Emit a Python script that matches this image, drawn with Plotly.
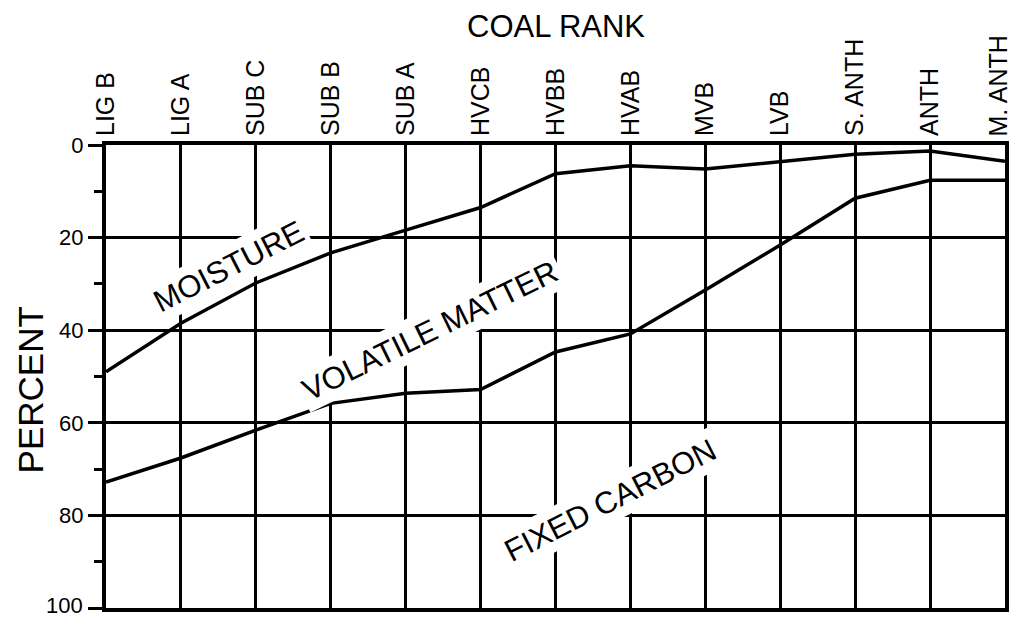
import plotly.graph_objects as go

ranks = ["LIG B", "LIG A", "SUB C", "SUB B", "SUB A", "HVCB", "HVBB",
         "HVAB", "MVB", "LVB", "S. ANTH", "ANTH", "M. ANTH"]
moisture_line = [49.0, 38.5, 29.8, 23.3, 18.4, 13.5, 6.2, 4.5, 5.2, 3.6, 2.0, 1.3, 3.5]
volatile_line = [72.8, 67.6, 61.6, 55.8, 53.6, 52.8, 44.7, 40.8, 31.3, 21.6, 11.5, 7.6, 7.6]
y_ticks = [0, 20, 40, 60, 80, 100]

xpos = list(range(len(ranks)))
FONT = "Liberation Sans, Arial, Helvetica, sans-serif"

fig = go.Figure()
fig.add_trace(go.Scatter(x=xpos, y=moisture_line, mode="lines",
                         line=dict(color="black", width=3.5), showlegend=False))
fig.add_trace(go.Scatter(x=xpos, y=volatile_line, mode="lines",
                         line=dict(color="black", width=3.5), showlegend=False))

labels = [
    ("MOISTURE", 1.64, 26.3, -27),
    ("VOLATILE MATTER", 4.33, 40.0, -26),
    ("FIXED CARBON", 6.73, 76.7, -27),
]
for text, x, y, ang in labels:
    fig.add_annotation(x=x, y=y, xref="x", yref="y", text=text, showarrow=False,
                       textangle=ang, bgcolor="white", borderpad=3,
                       xanchor="center", yanchor="middle",
                       font=dict(family=FONT, size=31, color="black"))

fig.add_annotation(x=0.5, y=1.255, xref="paper", yref="paper", text="COAL RANK",
                   showarrow=False, xanchor="center", yanchor="middle",
                   font=dict(family=FONT, size=31, color="black"))
fig.add_annotation(x=-0.084, y=0.471, xref="paper", yref="paper", text="PERCENT",
                   showarrow=False, textangle=-90, xanchor="center", yanchor="middle",
                   font=dict(family=FONT, size=35, color="black"))

# edge tick labels placed as annotations so they stay inside the page
x_ticktext = ranks[:-1] + [""]
fig.add_annotation(x=xpos[-1], y=1, xref="x", yref="paper", text=ranks[-1],
                   showarrow=False, textangle=-90, xanchor="center", yanchor="bottom",
                   xshift=-8, yshift=6, font=dict(family=FONT, size=25, color="black"))
y_ticktext = [str(v) for v in y_ticks[:-1]] + [""]
fig.add_annotation(x=0, y=y_ticks[-1], xref="paper", yref="y", text=str(y_ticks[-1]),
                   showarrow=False, xanchor="right", yanchor="middle",
                   xshift=-21, yshift=3, font=dict(family=FONT, size=22, color="black"))

fig.update_layout(
    width=1011, height=619,
    margin=dict(l=106, r=6, t=145, b=11, autoexpand=False),
    paper_bgcolor="white", plot_bgcolor="white",
    font=dict(family=FONT, color="black"),
    xaxis=dict(
        range=[0, len(ranks) - 1], side="top",
        tickmode="array", tickvals=xpos, ticktext=x_ticktext,
        tickangle=-90, tickfont=dict(size=25, family=FONT),
        showgrid=True, gridcolor="black", gridwidth=3,
        showline=True, linecolor="black", linewidth=4, mirror=True,
        ticks="", zeroline=False, automargin=False,
    ),
    yaxis=dict(
        range=[100, 0],
        tickmode="array", tickvals=y_ticks, ticktext=y_ticktext,
        tickfont=dict(size=22, family=FONT),
        showgrid=True, gridcolor="black", gridwidth=3,
        showline=True, linecolor="black", linewidth=4, mirror=True,
        ticks="outside", ticklen=14, tickwidth=3, tickcolor="black",
        minor=dict(tickvals=[10, 30, 50, 70, 90], ticks="outside", ticklen=8,
                   tickwidth=3, tickcolor="black", showgrid=False),
        zeroline=False, automargin=False,
    ),
)

fig.write_html("out.html", config={"displayModeBar": False},
               post_script="document.body.style.margin='0';document.body.style.overflow='hidden';")
